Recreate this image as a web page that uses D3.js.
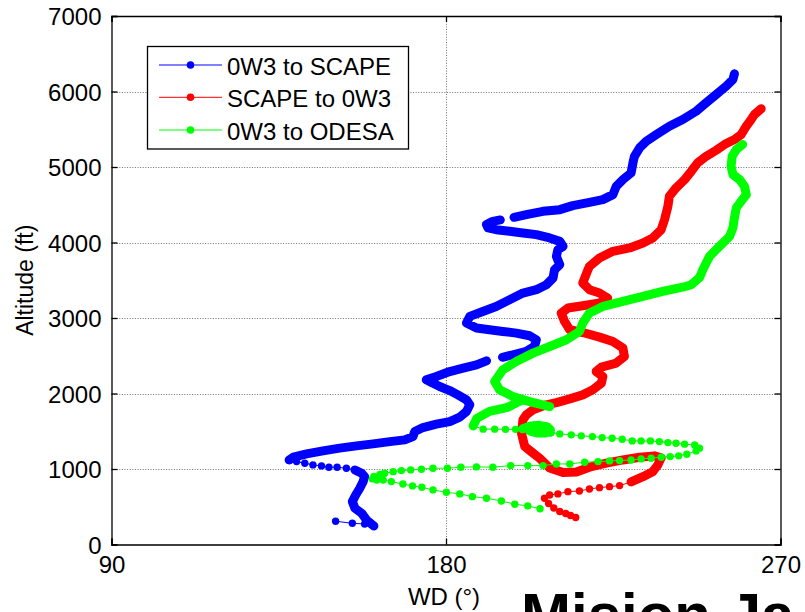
<!DOCTYPE html>
<html>
<head>
<meta charset="utf-8">
<script src="https://cdn.jsdelivr.net/npm/d3@7"></script>
<style>
  html, body { margin: 0; padding: 0; background: #fff; overflow: hidden; }
  svg { display: block; }
  text { font-family: "Liberation Sans", Arial, Helvetica, sans-serif; fill: #000; }
</style>
</head>
<body>
<svg id="chart" width="805" height="612"></svg>
<script>
// Wind direction (deg) against altitude (ft) logged on three flight legs.
const xTicks = [90, 180, 270];
const yTicks = [0, 1000, 2000, 3000, 4000, 5000, 6000, 7000];
const seriesNames = ["0W3 to SCAPE", "SCAPE to 0W3", "0W3 to ODESA"];

// Each leg is a list of runs: "band" = densely logged fixes, "dots" = spaced-out fixes.
// Points are [wind direction, altitude]; null marks a break in the log.
const blueRuns = [
  ["dots", [[150.3, 308], [154.8, 281], [158.1, 272], [160.6, 245]]],
  ["band", [[160.6, 245], [158.6, 325], [157.3, 414], [155.5, 480], [154.8, 568], [155.7, 656],
            [156.8, 745], [157.7, 833], [158.1, 899], [157.3, 944], [155.5, 988]]],
  ["dots", [[155.5, 988], [153.2, 1010], [150.7, 1024], [148.5, 1024], [146.5, 1041], [144.2, 1054],
            [142.0, 1077], [139.8, 1098], [137.8, 1120]]],
  ["band", [[137.8, 1120], [138.9, 1156], [142.5, 1200], [146.9, 1240], [151.4, 1276], [155.9, 1306],
            [160.4, 1333], [164.9, 1363], [168.9, 1386], [171.1, 1429], [171.6, 1496], [173.8, 1549],
            [177.4, 1594], [181.0, 1628], [183.7, 1687], [185.5, 1761], [186.4, 1850], [185.5, 1916],
            [183.2, 1982], [181.0, 2039], [178.3, 2092], [176.1, 2145], [174.7, 2181], [177.4, 2225],
            [181.0, 2291], [184.6, 2336], [188.2, 2380], [190.9, 2433], null,
            [195.2, 2480], [198.0, 2513], [201.6, 2557], [203.8, 2623], [204.3, 2712], [202.5, 2765],
            [198.9, 2800], [195.3, 2822], [191.7, 2844], [188.2, 2867], [185.5, 2933], [186.4, 3021],
            [189.9, 3087], [193.5, 3153], [197.1, 3242], [200.7, 3331], [204.3, 3375], [207.0, 3441],
            [208.8, 3530], [209.2, 3640], [210.6, 3706], [209.7, 3816], [210.1, 3905], [211.5, 3949],
            [210.6, 4015], [207.9, 4060], [204.3, 4104], [200.7, 4126], [197.1, 4148], [193.5, 4170],
            [191.3, 4193], [190.9, 4237], [192.6, 4280], [194.6, 4299], null,
            [198.3, 4333], [201.6, 4369], [206.1, 4413], [210.6, 4435], [214.1, 4489], [218.6, 4532],
            [222.2, 4568], [224.9, 4634], [225.8, 4744], [227.6, 4833], [229.8, 4922], [230.3, 5055],
            [230.7, 5142], [232.1, 5254], [233.9, 5341], [236.6, 5430], [240.1, 5540], [243.7, 5629],
            [247.3, 5739], [250.0, 5850], [252.7, 5960], [255.4, 6071], [257.2, 6159], [257.6, 6235]]]
];

const redRuns = [
  ["band", [[264.8, 5771], [263.0, 5695], [262.1, 5629], [260.8, 5540], [259.4, 5430], [257.6, 5364],
            [254.9, 5297], [252.7, 5222], [250.0, 5142], [247.7, 5055], [246.0, 4943], [244.2, 4833],
            [241.9, 4723], [240.1, 4612], [239.7, 4479], [238.8, 4303], [237.9, 4170], [235.6, 4060],
            [233.0, 3994], [229.4, 3928], [224.9, 3883], [221.3, 3795], [218.6, 3684], [218.2, 3640],
            [216.8, 3464], [218.6, 3375], [221.3, 3331], [223.5, 3265], [221.3, 3198], [216.8, 3163],
            [212.8, 3132], [211.0, 3066], [211.9, 2954], [213.3, 2844], [216.8, 2808], [221.3, 2747],
            [224.9, 2689], [227.6, 2602], [228.0, 2490], [225.8, 2403], [221.8, 2350], [220.4, 2291],
            [222.2, 2225], [221.8, 2137], [219.5, 2049], [216.8, 1982], [213.3, 1929], [209.7, 1880],
            [207.0, 1850], [203.4, 1783], [201.6, 1717], [200.7, 1651], [200.3, 1475], [201.2, 1297],
            [203.0, 1227], [205.2, 1143], [207.9, 1014], [211.5, 955], [215.1, 961], [218.6, 1024],
            [223.1, 1077], [227.6, 1120], [232.1, 1156], [236.1, 1174], [237.9, 1147], [237.0, 1054],
            [235.6, 965], [233.0, 899], [229.8, 829]]],
  ["dots", [[229.8, 829], [226.7, 780], [224.0, 766], [221.3, 753], [218.6, 736], [215.9, 709],
            [212.8, 700], [210.1, 670], [207.9, 656], [206.5, 613], [207.6, 544], [209.0, 484],
            [210.6, 438], [212.2, 411], [213.5, 385], [214.9, 358]]]
];

const greenRuns = [
  ["band", [[259.8, 5297], [258.1, 5231], [257.0, 5142], [256.7, 5010], [257.2, 4900], [259.0, 4833],
            [260.3, 4744], [260.8, 4634], [259.4, 4545], [258.1, 4458], [257.6, 4325], [257.2, 4193],
            [256.3, 4081], [254.5, 3994], [252.7, 3905], [250.9, 3816], [250.0, 3729], [249.1, 3640],
            [248.2, 3534], [246.0, 3441], [243.7, 3408], [238.3, 3352], [233.0, 3286], [227.6, 3220],
            [222.2, 3153], [218.6, 3066], [216.8, 2933], [215.9, 2822], [212.4, 2712], [207.9, 2623],
            [203.4, 2535], [198.9, 2424], [195.3, 2314], [193.1, 2159], [194.4, 2049], [198.0, 1960],
            [202.5, 1894], [207.9, 1827], [200.6, 1916], [196.6, 1817], [191.7, 1764], [188.3, 1671],
            [187.3, 1571]]],
  ["dots", [[187.3, 1571], [190.0, 1528], [193.1, 1528], [196.0, 1525], [198.7, 1525], [200.6, 1532]]],
  ["band", [[200.6, 1532], [202.8, 1571], [205.2, 1578], [207.3, 1558], [208.1, 1518], [206.8, 1478],
            [204.4, 1478], [202.5, 1505], [206.3, 1492], [208.1, 1485]]],
  ["dots", [[208.1, 1485], [210.6, 1465], [213.7, 1452], [216.4, 1439], [219.4, 1429], [222.0, 1416],
            [224.7, 1408], [227.4, 1395], [230.1, 1372], [232.5, 1372], [235.0, 1372], [237.4, 1363],
            [239.7, 1350], [241.9, 1342], [244.2, 1329], [246.9, 1319], [248.2, 1276], [247.3, 1240],
            [244.8, 1196], [242.6, 1174], [240.3, 1164], [237.9, 1156], [235.2, 1143], [232.5, 1134],
            [229.8, 1120], [226.7, 1111], [224.0, 1107], [220.9, 1098], [217.3, 1090], [213.3, 1067],
            [209.7, 1067], [206.1, 1045], [202.0, 1045], [197.4, 1045], [192.6, 1024], [188.2, 1028],
            [184.0, 1024], [180.4, 1010], [176.5, 1010], [173.4, 997], [170.5, 988], [168.0, 979],
            [165.8, 965], [163.5, 944], [162.2, 928], [160.6, 902], [160.2, 869], [161.4, 855],
            [163.1, 855], [165.3, 833], [168.4, 802], [171.0, 776], [173.5, 758], [176.5, 723],
            [180.1, 692], [183.7, 670], [187.1, 634], [190.9, 613], [194.9, 577], [198.5, 533],
            [202.0, 511], [205.3, 473]]]
];

const series = [
  { name: seriesNames[0], color: "#0000ff", runs: blueRuns },
  { name: seriesNames[1], color: "#ff0000", runs: redRuns },
  { name: seriesNames[2], color: "#00ff00", runs: greenRuns }
];

const svg = d3.select("#chart");
const plot = { left: 111.5, right: 780.5, top: 16, bottom: 544.5 };

const x = d3.scaleLinear().domain([90, 270]).range([plot.left, plot.right]);
const y = d3.scaleLinear().domain([0, 7000]).range([plot.bottom, plot.top]);

// dotted grid
const grid = svg.append("g").attr("stroke", "#6f6f6f").attr("stroke-width", 1)
  .attr("stroke-dasharray", "1,1.6").attr("fill", "none");
yTicks.filter(v => v > 0 && v < 7000).forEach(v => {
  grid.append("line").attr("x1", plot.left).attr("x2", plot.right)
    .attr("y1", Math.round(y(v)) + 0.5).attr("y2", Math.round(y(v)) + 0.5);
});
xTicks.filter(v => v > 90 && v < 270).forEach(v => {
  grid.append("line").attr("y1", plot.top).attr("y2", plot.bottom)
    .attr("x1", Math.round(x(v)) + 0.5).attr("x2", Math.round(x(v)) + 0.5);
});

// data
const line = d3.line().defined(d => d !== null).x(d => x(d[0])).y(d => y(d[1]));
series.forEach(s => {
  const g = svg.append("g");
  const all = [];
  s.runs.forEach(([, pts]) => pts.forEach(p => all.push(p)));
  // thin connecting line through every fix
  g.append("path").attr("d", line(all)).attr("fill", "none")
    .attr("stroke", s.color).attr("stroke-width", 1);
  // densely logged stretches read as a solid thick trace
  s.runs.filter(r => r[0] === "band").forEach(([, pts]) => {
    g.append("path").attr("d", line(pts)).attr("fill", "none")
      .attr("stroke", s.color).attr("stroke-width", 9)
      .attr("stroke-linecap", "round").attr("stroke-linejoin", "round");
  });
  // point markers
  g.selectAll("circle").data(all.filter(p => p !== null)).join("circle")
    .attr("cx", d => x(d[0])).attr("cy", d => y(d[1])).attr("r", 3.7)
    .attr("fill", s.color);
});

// axes (ticks point inward, box closed on top and right)
const fontTick = 24;
const axL = svg.append("g").attr("transform", `translate(${plot.left},0)`)
  .call(d3.axisLeft(y).tickValues(yTicks).tickSize(-6).tickPadding(10).tickFormat(d3.format("d")));
const axB = svg.append("g").attr("transform", `translate(0,${plot.bottom})`)
  .call(d3.axisBottom(x).tickValues(xTicks).tickSize(-6).tickPadding(11.5).tickFormat(d3.format("d")));
const axR = svg.append("g").attr("transform", `translate(${plot.right},0)`)
  .call(d3.axisRight(y).tickValues(yTicks).tickSize(-6).tickFormat(""));
const axT = svg.append("g").attr("transform", `translate(0,${plot.top})`)
  .call(d3.axisTop(x).tickValues(xTicks).tickSize(-6).tickFormat(""));
[axL, axB, axR, axT].forEach(a => {
  a.selectAll("path.domain").attr("stroke", "#000").attr("stroke-width", 1.3);
  a.selectAll(".tick line").attr("stroke", "#000").attr("stroke-width", 1.3);
  a.selectAll("text").attr("font-size", fontTick).attr("font-family", "Liberation Sans, Arial, sans-serif").attr("fill", "#000");
});
axL.selectAll("text").attr("dy", "0.36em");

// axis titles
svg.append("text").attr("transform", `translate(33,${(plot.top + plot.bottom) / 2}) rotate(-90)`)
  .attr("text-anchor", "middle").attr("font-size", 23).text("Altitude (ft)");
svg.append("text").attr("x", (plot.left + plot.right) / 2 - 2).attr("y", 605)
  .attr("text-anchor", "middle").attr("font-size", 24).text("WD (°)");

// legend
const lg = svg.append("g");
lg.append("rect").attr("x", 147.5).attr("y", 46.5).attr("width", 261).attr("height", 102.5)
  .attr("fill", "#fff").attr("stroke", "#000").attr("stroke-width", 1.3);
const rowsY = [65, 97.3, 130];
series.forEach((s, i) => {
  lg.append("line").attr("x1", 159).attr("x2", 222).attr("y1", rowsY[i]).attr("y2", rowsY[i])
    .attr("stroke", s.color).attr("stroke-width", 1);
  lg.append("circle").attr("cx", 190.5).attr("cy", rowsY[i]).attr("r", 3.8).attr("fill", s.color);
  lg.append("text").attr("x", 227).attr("y", rowsY[i] + 9.8).attr("font-size", 24).text(s.name);
});

// slide heading running off the bottom edge
svg.append("text").attr("x", 521).attr("y", 635).attr("font-size", 60)
  .attr("font-weight", "bold").text("Mision Ja");
</script>
</body>
</html>
